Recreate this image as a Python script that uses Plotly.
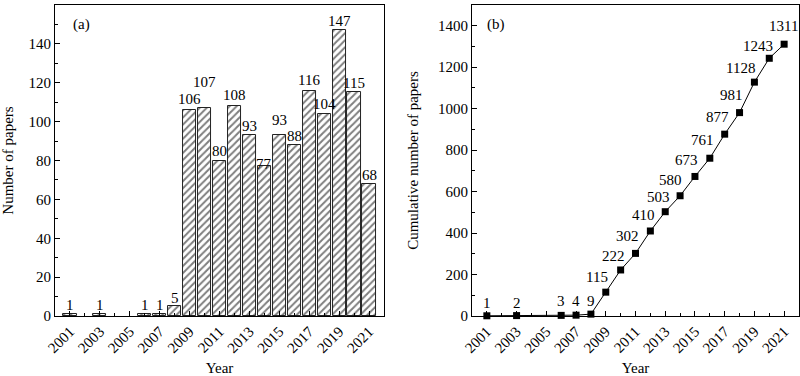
import plotly.graph_objects as go

years = [2001, 2003, 2006, 2007, 2008, 2009, 2010, 2011, 2012, 2013, 2014,
         2015, 2016, 2017, 2018, 2019, 2020, 2021]
papers = [1, 1, 1, 1, 5, 106, 107, 80, 108, 93, 77, 93, 88, 116, 104, 147, 115, 68]
cumulative = [1, 2, 3, 4, 9, 115, 222, 302, 410, 503, 580, 673, 761, 877, 981,
              1128, 1243, 1311]
tick_years = list(range(2001, 2022, 2))

# label offsets in pixels (style only)
bar_lbl_dy = [9, 9, 9, 9, 8, 11, 26, 10, 11, 9, 2, 15, 9, 11, 10, 9, 9, 9]
cum_lbl_dx = [0, 0, 0, 0, 0, -9, -7, -8, -7, -7, -10, -8, -7, -7, -8, -14, -11, -1]
cum_lbl_dy = [13, 13, 14, 14, 13, 15, 14, 17, 16, 15, 16, 16, 18, 17, 18, 14, 12, 18]

FONT = "Liberation Serif, Times New Roman, serif"
FS = 15
tf = dict(family=FONT, size=FS, color="black")

fig = go.Figure()

fig.add_trace(go.Bar(
    x=years, y=papers, width=0.88,
    marker=dict(color="white", line=dict(color="#222222", width=1),
                pattern=dict(shape="/", fgcolor="black", bgcolor="white",
                             size=5, solidity=0.4)),
    xaxis="x", yaxis="y", showlegend=False,
))

fig.add_trace(go.Scatter(
    x=years, y=cumulative, mode="lines+markers",
    line=dict(color="black", width=1),
    marker=dict(symbol="square", size=7, color="black"),
    cliponaxis=False, xaxis="x2", yaxis="y2", showlegend=False,
))

annotations = []
for yr, v, dy in zip(years, papers, bar_lbl_dy):
    annotations.append(dict(x=yr, y=v, xref="x", yref="y", text=str(v),
                            showarrow=False, xanchor="center", yanchor="middle",
                            yshift=dy, font=tf))
for yr, v, dx, dy in zip(years, cumulative, cum_lbl_dx, cum_lbl_dy):
    annotations.append(dict(x=yr, y=v, xref="x2", yref="y2", text=str(v),
                            showarrow=False, xanchor="center", yanchor="middle",
                            xshift=dx, yshift=dy, font=tf))
annotations += [
    dict(text="(a)", xref="x domain", yref="y domain", x=0.05, y=0.936,
         showarrow=False, xanchor="left", yanchor="middle", font=tf),
    dict(text="(b)", xref="x2 domain", yref="y2 domain", x=0.04, y=0.936,
         showarrow=False, xanchor="left", yanchor="middle", font=tf),
]

xcommon = dict(
    range=[2000, 2022], tickmode="array", tickvals=tick_years,
    ticktext=[str(y) for y in tick_years], tickangle=-45,
    ticks="inside", ticklen=5, tickcolor="black",
    minor=dict(dtick=1, tick0=2000, ticks="inside", ticklen=3, tickcolor="black"),
    showline=True, linecolor="black", linewidth=1, mirror=True,
    showgrid=False, zeroline=False, automargin=False,
    tickfont=tf,
    title=dict(text="Year", font=tf, standoff=9),
)

fig.update_layout(
    width=800, height=376,
    margin=dict(l=0, r=0, t=5, b=60),
    paper_bgcolor="white", plot_bgcolor="white",
    font=tf,
    bargap=0,
    xaxis=dict(domain=[0.0688, 0.48], anchor="y", **xcommon),
    xaxis2=dict(domain=[0.59, 0.99875], anchor="y2", **xcommon),
    yaxis=dict(
        domain=[0, 1], anchor="x", range=[0, 160], dtick=20,
        ticks="inside", ticklen=5, tickcolor="black",
        minor=dict(dtick=10, ticks="inside", ticklen=3, tickcolor="black"),
        showline=True, linecolor="black", linewidth=1, mirror=True,
        showgrid=False, zeroline=False, automargin=False,
        tickfont=tf,
        title=dict(text="Number of papers", font=tf, standoff=12),
    ),
    yaxis2=dict(
        domain=[0, 1], anchor="x2", range=[0, 1500], dtick=200,
        ticks="inside", ticklen=5, tickcolor="black",
        minor=dict(dtick=100, ticks="inside", ticklen=3, tickcolor="black"),
        showline=True, linecolor="black", linewidth=1, mirror=True,
        showgrid=False, zeroline=False, automargin=False,
        tickfont=tf,
        title=dict(text="Cumulative number of papers", font=tf, standoff=15),
    ),
    annotations=annotations,
)

fig.write_html("out.html", config={"displayModeBar": False},
               post_script="document.body.style.margin='0';document.body.style.overflow='hidden';")
